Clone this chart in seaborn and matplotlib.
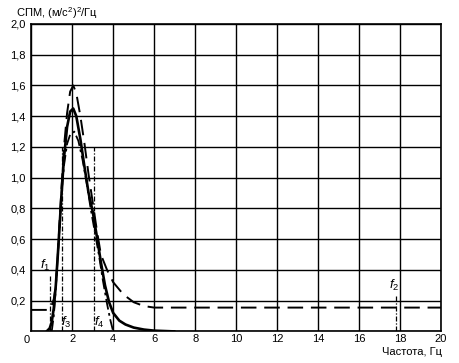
import numpy as np
import pandas as pd
import seaborn as sns
import matplotlib
matplotlib.use("Agg")
import matplotlib.pyplot as plt

# верхняя огибающая (штриховая)
f_upper = [0.0, 0.85, 1.0, 1.1, 1.2, 1.3, 1.4, 1.5, 1.6, 1.75, 1.9, 2.05, 2.2, 2.4,
           2.6, 2.8, 3.0, 3.2, 3.4, 3.7, 4.0, 4.5, 5.0, 5.5, 6.0, 7.0, 20.0]
s_upper = [0.14, 0.14, 0.17, 0.21, 0.30, 0.50, 0.75, 0.98, 1.20, 1.42, 1.56, 1.60, 1.55, 1.40,
           1.22, 1.02, 0.84, 0.66, 0.50, 0.40, 0.32, 0.24, 0.19, 0.165, 0.155, 0.155, 0.155]

# номинальный спектр (сплошная)
f_nom = [0.75, 0.9, 1.0, 1.1, 1.2, 1.3, 1.4, 1.5, 1.6, 1.75, 1.9, 2.05, 2.2, 2.4, 2.6,
         2.8, 3.0, 3.2, 3.4, 3.6, 3.8, 4.0, 4.3, 4.6, 5.0, 5.5, 6.0, 7.0]
s_nom = [0.0, 0.02, 0.06, 0.15, 0.30, 0.50, 0.72, 0.94, 1.13, 1.33, 1.43, 1.45, 1.40, 1.25, 1.07,
         0.90, 0.78, 0.62, 0.45, 0.30, 0.19, 0.12, 0.07, 0.045, 0.025, 0.012, 0.005, 0.0]

# нижняя огибающая (штрихпунктирная)
f_lower = [1.0, 1.1, 1.2, 1.3, 1.4, 1.5, 1.6, 1.75, 1.9, 2.1, 2.3, 2.5, 2.7, 2.9, 3.1,
           3.3, 3.5, 3.7, 3.85, 4.0]
s_lower = [0.0, 0.10, 0.28, 0.50, 0.72, 0.92, 1.08, 1.22, 1.28, 1.30, 1.24, 1.12, 0.97, 0.80, 0.65,
           0.50, 0.33, 0.18, 0.08, 0.0]

# граничные частоты
f_marks = ["f1", "f3", "f4", "f2"]
f_pos = [0.9, 1.5, 3.05, 17.8]
f_top = [0.36, 1.2, 1.2, 0.24]

x_ticks = [0, 2, 4, 6, 8, 10, 12, 14, 16, 18, 20]
y_ticks = [0.0, 0.2, 0.4, 0.6, 0.8, 1.0, 1.2, 1.4, 1.6, 1.8, 2.0]

sns.set_style("white")
plt.rcParams["font.family"] = ["Liberation Sans", "DejaVu Sans"]
plt.rcParams["text.color"] = "black"
plt.rcParams["xtick.color"] = "black"
plt.rcParams["ytick.color"] = "black"
plt.rcParams["mathtext.fontset"] = "custom"
plt.rcParams["mathtext.it"] = "Liberation Sans:italic"
plt.rcParams["mathtext.rm"] = "Liberation Sans"

fig = plt.figure(figsize=(4.59, 3.63), dpi=100)
ax = fig.add_axes([0.068, 0.087, 0.893, 0.847])

for xv in x_ticks:
    ax.axvline(xv, color="black", lw=1.0, zorder=1)
for yv in y_ticks:
    ax.axhline(yv, color="black", lw=1.0, zorder=1)

sns.lineplot(x=f_upper, y=s_upper, ax=ax, color="black", lw=1.4,
             estimator=None, sort=False, zorder=3).lines[-1].set_dashes([8, 4])
sns.lineplot(x=f_nom, y=s_nom, ax=ax, color="black", lw=1.9,
             estimator=None, sort=False, zorder=3)
ln = sns.lineplot(x=f_lower, y=s_lower, ax=ax, color="black", lw=1.3,
                  estimator=None, sort=False, zorder=3).lines[-1]
ln.set_dashes([6, 2, 1.5, 2])

lbl_off = {"f1": (-0.2, 0.02), "f3": (0.2, -1.19), "f4": (0.25, -1.19), "f2": (-0.1, 0.01)}
for name, xp, top in zip(f_marks, f_pos, f_top):
    ax.plot([xp, xp], [0, top], color="black", lw=0.9, dashes=[4, 1.5, 1, 1.5], zorder=2)
    dx, dy = lbl_off[name]
    ax.text(xp + dx, top + dy, f"$f_{name[1]}$", fontsize=9.5, ha="center", va="bottom",
            zorder=4)

ax.set_xlim(0, 20)
ax.set_ylim(0, 2.0)
ax.set_xticks(x_ticks)
ax.set_yticks(y_ticks)
ax.set_xticklabels([""] + [str(v) for v in x_ticks[1:]], fontsize=8)
ax.set_yticklabels([""] + [f"{v:.1f}".replace(".", ",") for v in y_ticks[1:]], fontsize=8)
ax.tick_params(axis="x", length=0, pad=2)
ax.tick_params(axis="y", length=0, pad=4)
for sp in ax.spines.values():
    sp.set_color("black")
    sp.set_linewidth(1.2)

fig.text(0.059, 0.055, "0", fontsize=8, ha="center", va="baseline")
fig.text(0.035, 0.953, "СПМ, (м/с$^2$)$^2$/Гц", fontsize=8, ha="left", va="baseline")
fig.text(0.963, 0.022, "Частота, Гц", fontsize=8, ha="right", va="baseline")

fig.savefig("out.png", dpi=100)
